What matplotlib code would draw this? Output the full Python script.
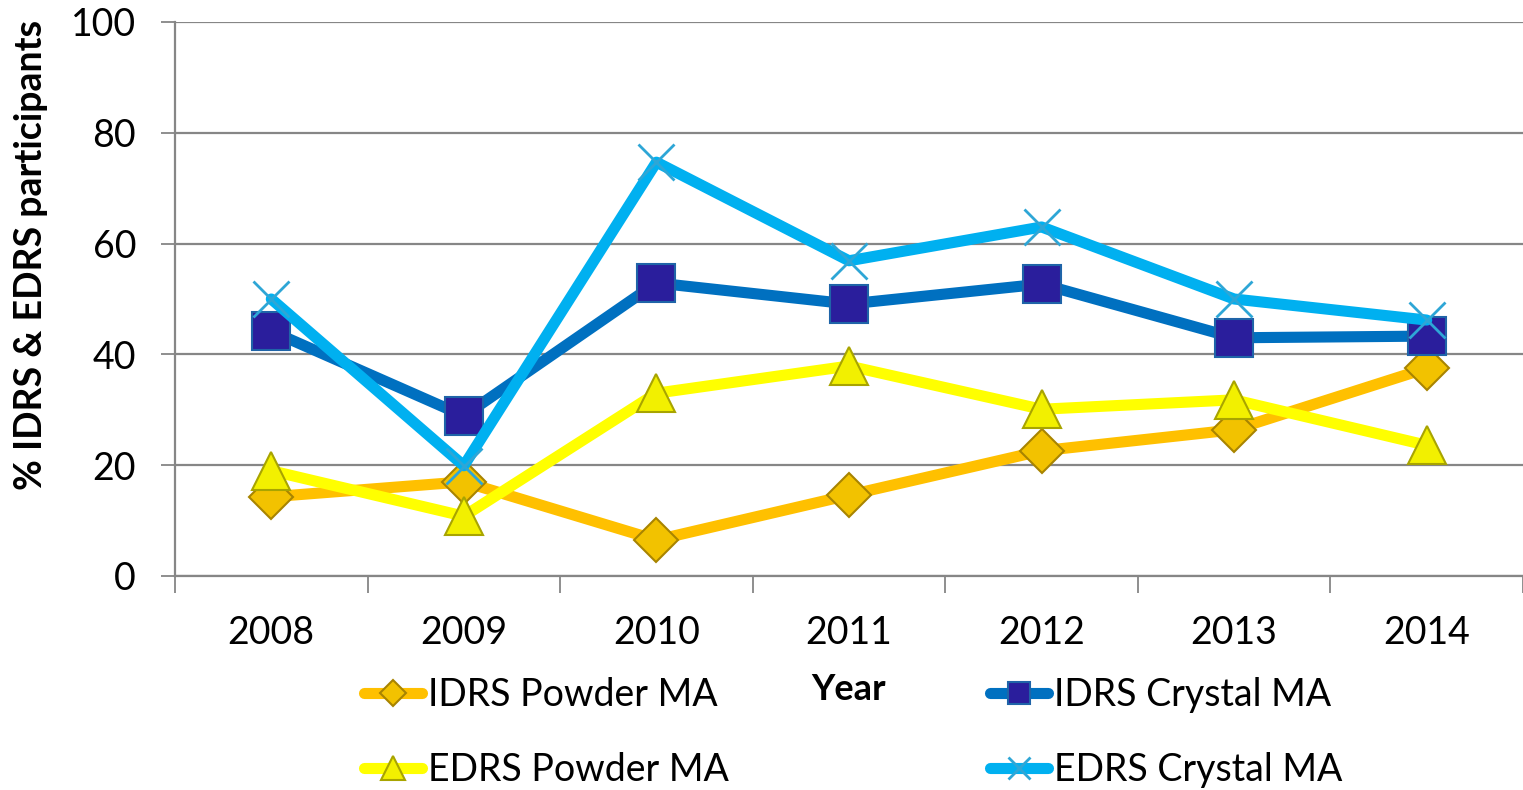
import matplotlib
matplotlib.use("Agg")
import matplotlib.pyplot as plt
from matplotlib.lines import Line2D

plt.rcParams['font.family'] = ['Lato', 'DejaVu Sans']

years = ["2008", "2009", "2010", "2011", "2012", "2013", "2014"]
idrs_powder = [14.3, 17.0, 6.5, 14.6, 22.6, 26.4, 37.5]
idrs_crystal = [44.2, 28.9, 52.9, 49.1, 52.7, 43.0, 43.3]
edrs_powder = [19.0, 10.8, 33.0, 37.9, 30.1, 31.8, 23.6]
edrs_crystal = [50.0, 19.9, 74.7, 56.9, 63.0, 50.0, 46.2]
yticks = [0, 20, 40, 60, 80, 100]

fig = plt.figure(figsize=(15.23, 7.90), dpi=100)
ax = fig.add_axes([175/1523, 1-576/790, 1-175/1523, (576-22)/790])

x = list(range(len(years)))
grid_c = "#868686"

series = [
    ("IDRS Powder MA", idrs_powder, "#FFC000", dict(marker="D", ms=22, mfc="#F2C200", mec="#A88400", mew=1.5), 2),
    ("IDRS Crystal MA", idrs_crystal, "#0070C0", dict(marker="s", ms=27, mfc="#2A1E9C", mec="#1F64A8", mew=1.5), 3),
    ("EDRS Powder MA", edrs_powder, "#FFFF00", dict(marker="^", ms=28, mfc="#F2F000", mec="#A8A400", mew=1.5), 2.5),
    ("EDRS Crystal MA", edrs_crystal, "#00B0F0", dict(marker="x", ms=26, mec="#2EA6D6", mew=2), 4),
]
handles = {}
for name, vals, col, mk, z in series:
    ln, = ax.plot(x, vals, color=col, lw=8, solid_capstyle="round", zorder=z, label=name, **mk)
    handles[name] = ln

ax.set_xlim(-0.5, 6.5)
ax.set_ylim(0, 100)
ax.set_yticks(yticks)
ax.set_yticklabels([str(t) for t in yticks])
ax.set_xticks(x)
ax.set_xticklabels(years)
ax.set_xticks([i + 0.5 for i in range(-1, 7)], minor=True)
ax.tick_params(axis="x", which="major", length=0, pad=28, labelsize=27)
ax.tick_params(axis="x", which="minor", length=12, color=grid_c, width=1.3, direction="out")
ax.tick_params(axis="y", length=10, color=grid_c, width=1.3, pad=18, labelsize=27)
ax.yaxis.grid(True, color=grid_c, lw=1.6)
ax.set_axisbelow(True)
for s in ["top", "right"]:
    ax.spines[s].set_visible(False)
for s in ["left", "bottom"]:
    ax.spines[s].set_color(grid_c)
    ax.spines[s].set_linewidth(1.6)

fig.text(31/1523, 1-255/790, "% IDRS & EDRS participants", fontsize=27, fontweight="bold",
         rotation=90, ha="center", va="center")
fig.text(849/1523, 1-690/790, "Year", fontsize=26, fontweight="bold", ha="center", va="center")

def leg(names, xpos, ypos):
    hs = []
    for n in names:
        h = handles[n]
        hs.append(Line2D([], [], color=h.get_color(), lw=8, solid_capstyle="round",
                         marker=h.get_marker(), ms=h.get_markersize() * 0.6,
                         mfc=h.get_markerfacecolor(), mec=h.get_markeredgecolor(), mew=h.get_markeredgewidth()))
    l = fig.legend(hs, names, loc="center left", bbox_to_anchor=(xpos, ypos), frameon=False,
                   fontsize=27, handlelength=1.55, handletextpad=0.15, borderpad=0, borderaxespad=0)
    return l

leg(["IDRS Powder MA"], 364/1523, 1-695/790)
leg(["EDRS Powder MA"], 364/1523, 1-770/790)
leg(["IDRS Crystal MA"], 990/1523, 1-695/790)
leg(["EDRS Crystal MA"], 990/1523, 1-770/790)

fig.savefig("out.png", dpi=100)
